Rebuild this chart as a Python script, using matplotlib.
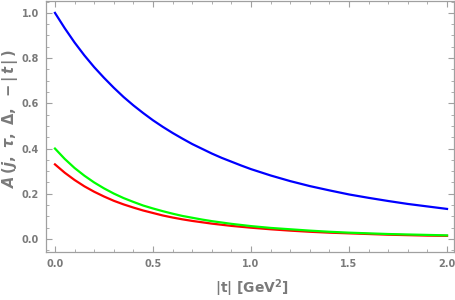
import numpy as np
import matplotlib
matplotlib.use("Agg")
import matplotlib.pyplot as plt
from matplotlib.ticker import MultipleLocator

# bold mathtext so the axis labels look like the reference
plt.rcParams["mathtext.fontset"] = "custom"
plt.rcParams["mathtext.rm"] = "DejaVu Sans:bold"
plt.rcParams["mathtext.it"] = "DejaVu Sans:italic:bold"
plt.rcParams["mathtext.bf"] = "DejaVu Sans:bold"

# values, |t| in GeV^2
t_vals = [0.0, 0.05, 0.1, 0.15, 0.2, 0.25, 0.3, 0.35, 0.4, 0.45, 0.5,
          0.55, 0.6, 0.65, 0.7, 0.75, 0.8, 0.85, 0.9, 0.95, 1.0,
          1.1, 1.2, 1.3, 1.4, 1.5, 1.6, 1.7, 1.8, 1.9, 2.0]
blue_vals = [1.000, 0.932, 0.869, 0.812, 0.760, 0.713, 0.669, 0.628, 0.591, 0.557, 0.525,
             0.496, 0.469, 0.444, 0.420, 0.399, 0.378, 0.359, 0.342, 0.325, 0.309,
             0.281, 0.256, 0.234, 0.215, 0.197, 0.182, 0.168, 0.155, 0.144, 0.133]
green_vals = [0.400, 0.354, 0.314, 0.280, 0.250, 0.224, 0.201, 0.181, 0.164, 0.148, 0.135,
              0.123, 0.112, 0.102, 0.094, 0.086, 0.079, 0.073, 0.067, 0.062, 0.057,
              0.049, 0.043, 0.037, 0.032, 0.028, 0.025, 0.022, 0.020, 0.018, 0.016]
red_vals = [0.330, 0.293, 0.261, 0.233, 0.209, 0.188, 0.169, 0.153, 0.139, 0.126, 0.115,
            0.104, 0.095, 0.087, 0.080, 0.074, 0.068, 0.063, 0.058, 0.054, 0.050,
            0.043, 0.037, 0.032, 0.028, 0.025, 0.022, 0.019, 0.017, 0.015, 0.014]

gray = "#7a7a7a"

fig = plt.figure(figsize=(4.55, 3.0), dpi=100)
ax = fig.add_axes([0.101, 0.16, 0.897, 0.837])

ax.plot(t_vals, blue_vals, color=(0, 0, 1), lw=1.6, solid_joinstyle="round")
ax.plot(t_vals, red_vals, color=(1, 0, 0), lw=1.6, solid_joinstyle="round")
ax.plot(t_vals, green_vals, color=(0, 1, 0), lw=1.6, solid_joinstyle="round")

ax.set_xlim(-0.046, 2.036)
ax.set_ylim(-0.0575, 1.053)

ax.xaxis.set_major_locator(MultipleLocator(0.5))
ax.xaxis.set_minor_locator(MultipleLocator(0.1))
ax.yaxis.set_major_locator(MultipleLocator(0.2))
ax.yaxis.set_minor_locator(MultipleLocator(0.05))
ax.xaxis.set_major_formatter(plt.FuncFormatter(lambda v, p: "%.1f" % v))
ax.yaxis.set_major_formatter(plt.FuncFormatter(lambda v, p: "%.1f" % v))

for s in ax.spines.values():
    s.set_color("#a0a0a0")
    s.set_linewidth(0.9)

ax.tick_params(which="both", direction="in", top=True, right=True, color="#a0a0a0")
ax.tick_params(which="major", length=4, width=0.8, labelsize=7, labelcolor=gray, pad=5)
ax.tick_params(which="minor", length=2.2, width=0.6)
for lab in ax.get_xticklabels() + ax.get_yticklabels():
    lab.set_fontweight("bold")

ax.set_xlabel(r"|t| [GeV$^2$]", fontsize=10, color=gray, fontweight="bold", va="center")
ax.xaxis.set_label_coords(0.505, -0.143)
ax.set_ylabel(r"$A\,(j,\ \tau,\ \Delta,\ -|\,t\,|\,)$", fontsize=10.5, color=gray, va="center")
ax.yaxis.set_label_coords(-0.088, 0.534)

fig.savefig("out.png", dpi=100)
